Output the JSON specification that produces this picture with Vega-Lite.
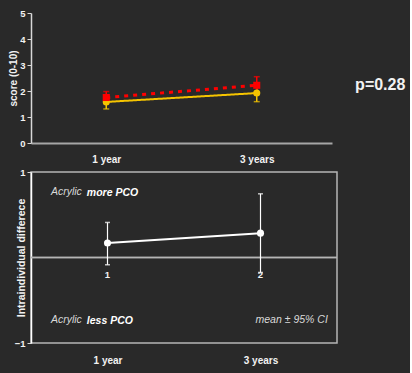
{
  "$schema": "https://vega.github.io/schema/vega-lite/v6.json",
  "background": "#292929",
  "padding": {"left": 8, "top": 8, "right": 4, "bottom": 12},
  "spacing": 29,
  "bounds": "flush",
  "config": {
    "view": {"stroke": null},
    "font": "Liberation Sans",
    "axis": {
      "labelColor": "#f2f2f2",
      "titleColor": "#f2f2f2",
      "labelFont": "Liberation Sans",
      "titleFont": "Liberation Sans",
      "labelFontWeight": "bold",
      "titleFontWeight": "bold",
      "grid": false,
      "domainColor": "#d8d8d8",
      "tickColor": "#d8d8d8"
    }
  },
  "datasets": {
    "score": [
      {"group": "3-P Silicone", "years": 1, "mean": 1.58, "lower": 1.31, "upper": 1.85},
      {"group": "3-P Silicone", "years": 3, "mean": 1.92, "lower": 1.59, "upper": 2.25},
      {"group": "3-P Acrylic", "years": 1, "mean": 1.75, "lower": 1.52, "upper": 1.98},
      {"group": "3-P Acrylic", "years": 3, "mean": 2.22, "lower": 1.89, "upper": 2.55}
    ],
    "diff": [
      {"years": 1, "label": "1", "mean": 0.17, "lower": -0.085, "upper": 0.41},
      {"years": 3, "label": "2", "mean": 0.285, "lower": -0.175, "upper": 0.745}
    ]
  },
  "vconcat": [
    {
      "width": 301,
      "height": 130,
      "data": {"name": "score"},
      "encoding": {
        "x": {
          "field": "years", "type": "quantitative",
          "scale": {"domain": [0, 4], "nice": false},
          "axis": {"values": [1, 3], "tickCount": 10, "labelExpr": "datum.value == 1 ? '1 year' : '3 years'", "ticks": false, "title": null, "domainColor": "#a6a6a6", "domainWidth": 2, "labelPadding": 11, "labelFontSize": 10}
        }
      },
      "layer": [
        {
          "mark": {"type": "line"},
          "encoding": {
            "y": {"field": "mean", "type": "quantitative", "scale": {"domain": [0, 5], "nice": false},
              "axis": {"values": [0, 1, 2, 3, 4, 5], "tickCount": 10, "format": "d", "labelOverlap": false, "title": "score (0-10)", "titleFontSize": 10, "labelFontSize": 9.5, "tickSize": 4, "domainWidth": 1.5, "titlePadding": 1}},
            "color": {"field": "group", "type": "nominal", "scale": {"domain": ["3-P Silicone", "3-P Acrylic"], "range": ["#f5c400", "#ff0000"]}, "legend": null},
            "strokeDash": {"field": "group", "type": "nominal", "scale": {"domain": ["3-P Silicone", "3-P Acrylic"], "range": [[1, 0], [4, 5]]}, "legend": null},
            "strokeWidth": {"field": "group", "type": "nominal", "scale": {"domain": ["3-P Silicone", "3-P Acrylic"], "range": [2, 3]}, "legend": null}
          }
        },
        {
          "mark": {"type": "errorbar", "ticks": {"size": 6, "thickness": 1.5}, "rule": {"strokeWidth": 1.5}},
          "encoding": {
            "y": {"field": "lower", "type": "quantitative",
              "axis": {"values": [0, 1, 2, 3, 4, 5], "tickCount": 10, "format": "d", "labelOverlap": false, "title": "score (0-10)", "titleFontSize": 10, "labelFontSize": 9.5, "tickSize": 4, "domainWidth": 1.5, "titlePadding": 1}},
            "y2": {"field": "upper"},
            "color": {"field": "group", "type": "nominal", "legend": null}
          }
        },
        {
          "mark": {"type": "point", "filled": true, "opacity": 1, "size": 50},
          "encoding": {
            "y": {"field": "mean", "type": "quantitative",
              "axis": {"values": [0, 1, 2, 3, 4, 5], "tickCount": 10, "format": "d", "labelOverlap": false, "title": "score (0-10)", "titleFontSize": 10, "labelFontSize": 9.5, "tickSize": 4, "domainWidth": 1.5, "titlePadding": 1}},
            "color": {"field": "group", "type": "nominal",
              "legend": {"orient": "none", "legendX": 22, "legendY": 9, "title": null, "padding": 0, "labelColor": "#f2f2f2", "labelFontWeight": "bold", "labelFontSize": 8.5, "labelOffset": 13, "rowPadding": 7, "symbolSize": 50}},
            "shape": {"field": "group", "type": "nominal", "scale": {"domain": ["3-P Silicone", "3-P Acrylic"], "range": ["circle", "square"]},
              "legend": {"orient": "none", "legendX": 22, "legendY": 9, "title": null, "padding": 0, "labelColor": "#f2f2f2", "labelFontWeight": "bold", "labelFontSize": 8.5, "labelOffset": 13, "rowPadding": 7, "symbolSize": 50}}
          }
        },
        {
          "transform": [{"filter": "datum.years == 1 && datum.group == '3-P Silicone'"}],
          "mark": {"type": "text", "text": "p=0.28", "align": "left", "baseline": "middle", "fontSize": 16, "fontWeight": "bold", "color": "#f2f2f2"},
          "encoding": {
            "x": {"datum": 4.307},
            "y": {"datum": 2.25}
          }
        }
      ]
    },
    {
      "width": 306,
      "height": 171,
      "view": {"stroke": "#b5b5b5", "strokeWidth": 1.5},
      "data": {"name": "diff"},
      "encoding": {
        "x": {
          "field": "years", "type": "quantitative",
          "scale": {"domain": [0, 4], "nice": false},
          "axis": {"values": [1, 3], "tickCount": 10, "labelExpr": "datum.value == 1 ? '1 year' : '3 years'", "ticks": false, "domain": false, "title": null, "labelPadding": 12, "labelFontSize": 10}
        }
      },
      "layer": [
        {
          "mark": {"type": "rule", "color": "#b5b5b5", "strokeWidth": 1.5},
          "encoding": {"y": {"datum": 0}, "x": null}
        },
        {
          "mark": {"type": "errorbar", "color": "#ffffff", "ticks": {"size": 5, "thickness": 1.5}, "rule": {"strokeWidth": 1.2}},
          "encoding": {
            "y": {"field": "lower", "type": "quantitative", "scale": {"domain": [-1, 1], "nice": false},
              "axis": {"values": [-1, 0, 1], "tickCount": 10, "format": "d", "labelOverlap": false, "title": "Intraindividual differece", "titleFontSize": 10.5, "labelFontSize": 9.5, "tickSize": 4, "domainColor": "#ffffff", "domainWidth": 1.5, "titlePadding": -12}},
            "y2": {"field": "upper"}
          }
        },
        {
          "mark": {"type": "line", "color": "#ffffff", "strokeWidth": 2},
          "encoding": {"y": {"field": "mean", "type": "quantitative",
              "axis": {"values": [-1, 0, 1], "tickCount": 10, "format": "d", "labelOverlap": false, "title": "Intraindividual differece", "titleFontSize": 10.5, "labelFontSize": 9.5, "tickSize": 4, "domainColor": "#ffffff", "domainWidth": 1.5, "titlePadding": -12}}}
        },
        {
          "mark": {"type": "point", "filled": true, "opacity": 1, "color": "#ffffff", "size": 50},
          "encoding": {"y": {"field": "mean", "type": "quantitative",
              "axis": {"values": [-1, 0, 1], "tickCount": 10, "format": "d", "labelOverlap": false, "title": "Intraindividual differece", "titleFontSize": 10.5, "labelFontSize": 9.5, "tickSize": 4, "domainColor": "#ffffff", "domainWidth": 1.5, "titlePadding": -12}}}
        },
        {
          "mark": {"type": "text", "fontSize": 9.5, "fontWeight": "bold", "color": "#f2f2f2", "baseline": "middle"},
          "encoding": {"y": {"datum": -0.2}, "text": {"field": "label"}}
        },
        {
          "transform": [{"filter": "datum.years == 1"}],
          "mark": {"type": "text", "text": "Acrylic", "align": "left", "baseline": "middle", "fontSize": 10.5, "fontStyle": "italic", "color": "#d9d9d9"},
          "encoding": {"x": {"datum": 0.26}, "y": {"datum": 0.77}}
        },
        {
          "transform": [{"filter": "datum.years == 1"}],
          "mark": {"type": "text", "text": "more PCO", "align": "left", "baseline": "middle", "fontSize": 10.5, "fontStyle": "italic", "fontWeight": "bold", "color": "#ffffff"},
          "encoding": {"x": {"datum": 0.73}, "y": {"datum": 0.75}}
        },
        {
          "transform": [{"filter": "datum.years == 1"}],
          "mark": {"type": "text", "text": "Acrylic", "align": "left", "baseline": "middle", "fontSize": 10.5, "fontStyle": "italic", "color": "#d9d9d9"},
          "encoding": {"x": {"datum": 0.26}, "y": {"datum": -0.73}}
        },
        {
          "transform": [{"filter": "datum.years == 1"}],
          "mark": {"type": "text", "text": "less PCO", "align": "left", "baseline": "middle", "fontSize": 10.5, "fontStyle": "italic", "fontWeight": "bold", "color": "#ffffff"},
          "encoding": {"x": {"datum": 0.73}, "y": {"datum": -0.74}}
        },
        {
          "transform": [{"filter": "datum.years == 1"}],
          "mark": {"type": "text", "text": "mean ±  95% CI", "align": "right", "baseline": "middle", "fontSize": 10.5, "fontStyle": "italic", "color": "#d9d9d9"},
          "encoding": {"x": {"datum": 3.88}, "y": {"datum": -0.73}}
        }
      ]
    }
  ]
}
